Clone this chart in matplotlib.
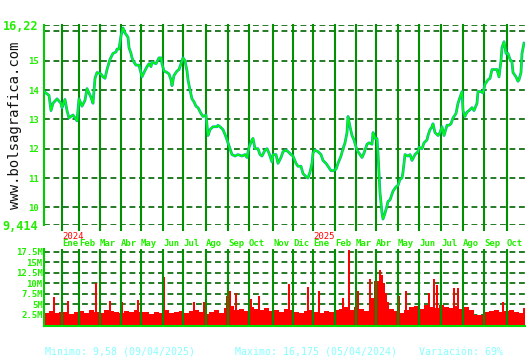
import matplotlib
matplotlib.use("Agg")
import matplotlib.pyplot as plt
import matplotlib.transforms as mtransforms

# ---------------- data (x = trading-session index) ----------------
price_x = [0, 5, 7, 9, 13, 17, 18, 21, 23, 25, 29, 33, 35, 38, 41, 43, 47, 49, 51, 53,
           57, 59, 61, 63, 66, 69, 72, 73, 75, 77, 79, 81, 84, 85, 87, 88, 90, 92, 95, 98,
           100, 103, 105, 107, 108, 112, 115, 117, 118, 120, 123, 125, 127, 128, 130, 133,
           135, 137, 139, 141, 143, 144, 146, 148, 150, 152, 154, 157, 159, 162, 163, 164,
           166, 169, 173, 174, 176, 179, 182, 184, 186, 188, 191, 194, 198, 201, 203, 205,
           208, 209, 211, 214, 216, 218, 221, 223, 225, 228, 229, 232, 234, 237, 239, 242,
           244, 247, 249, 252, 254, 257, 259, 262, 264, 266, 268, 269, 271, 274, 277, 279,
           282, 284, 287, 289, 292, 294, 297, 299, 301, 303, 304, 306, 308, 310, 313, 315,
           318, 320, 323, 325, 328, 329, 331, 333, 334, 335, 336, 338, 339, 341, 343, 344,
           346, 349, 352, 354, 356, 358, 359, 361, 364, 366, 368, 371, 374, 375, 378, 380,
           383, 384, 386, 388, 389, 391, 394, 396, 398, 400, 403, 405, 407, 409, 412, 414,
           416, 418, 419, 421, 423, 425, 428, 430, 433, 434, 437, 439, 441, 444, 446, 448,
           450, 453, 455, 457, 458, 460, 462, 464, 466, 468, 469, 472, 474, 475, 477, 478, 480]
price_close = [13.95, 13.82, 13.3, 13.55, 13.7, 13.55, 13.4, 13.68, 13.3, 13.05, 13.15, 12.95,
               13.7, 13.45, 13.65, 14.05, 13.75, 13.55, 14.4, 14.6, 14.55, 14.45, 14.4, 14.7,
               15.05, 15.25, 15.3, 15.4, 15.4, 15.85, 16.12, 15.95, 15.8, 15.45, 15.25, 15.1,
               14.95, 14.85, 14.85, 14.45, 14.6, 14.8, 14.9, 14.8, 14.95, 14.9, 15.1, 15.1,
               14.9, 14.65, 14.6, 14.55, 14.35, 14.15, 14.5, 14.65, 14.7, 14.9, 15.1, 15.0,
               14.65, 14.35, 14.0, 13.7, 13.6, 13.45, 13.4, 13.2, 13.1, 13.15, 12.8, 12.45,
               12.65, 12.75, 12.75, 12.8, 12.75, 12.65, 12.4, 12.2, 12.0, 11.8, 11.75, 11.8,
               11.75, 11.8, 11.7, 12.05, 12.3, 12.35, 12.0, 12.0, 11.8, 11.75, 11.95, 12.0,
               11.85, 11.55, 11.8, 11.8, 11.5, 11.7, 11.9, 11.95, 11.9, 11.8, 11.75, 11.5,
               11.4, 11.4, 11.15, 11.05, 11.0, 11.2, 11.5, 11.85, 11.95, 11.9, 11.8, 11.6,
               11.5, 11.4, 11.25, 11.25, 11.3, 11.5, 11.75, 12.0, 12.2, 12.55, 13.1, 12.75,
               12.45, 12.3, 11.95, 11.85, 11.7, 11.85, 12.15, 12.2, 12.15, 12.55, 12.35, 12.35,
               11.85, 11.15, 10.5, 9.8, 9.6, 9.8, 10.05, 10.2, 10.25, 10.55, 10.7, 10.75,
               10.95, 11.0, 11.2, 11.8, 11.75, 11.8, 11.6, 11.8, 11.9, 12.05, 12.0, 12.2,
               12.3, 12.45, 12.65, 12.75, 12.85, 12.55, 12.45, 12.55, 12.75, 12.45, 12.8, 12.8,
               12.85, 13.05, 13.2, 13.55, 13.75, 13.95, 13.3, 13.1, 13.25, 13.3, 13.4, 13.3,
               13.55, 13.95, 13.95, 13.9, 14.2, 14.35, 14.4, 14.7, 14.7, 14.7, 14.45, 15.0,
               15.45, 15.65, 15.25, 15.25, 15.05, 14.95, 14.6, 14.45, 14.3, 14.35, 14.6, 15.25,
               15.6]

# volume (millions): 5-session base levels plus single-session spikes
vol_base = [3.0, 3.4, 2.9, 3.3, 3.1, 2.7, 3.2, 3.5, 3.0, 3.6, 3.3, 2.9, 3.8, 3.4, 3.1, 3.0,
            3.5, 3.2, 3.7, 3.3,
            3.1, 2.8, 3.3, 3.0, 3.6, 2.9, 3.2, 3.4, 3.0, 3.5, 3.7, 3.1, 2.8, 3.3, 3.6, 3.0,
            4.2, 4.6, 3.8, 4.0, 3.5, 4.3, 3.9, 3.6, 4.1, 3.4, 3.8, 3.2, 4.0, 3.6,
            3.3, 3.0, 3.5, 3.8, 3.2, 2.9, 3.4, 3.1, 3.6,
            3.9, 4.3, 3.6, 4.4, 4.0, 3.5,
            6.5, 10.5, 9.0, 5.5, 4.0,
            3.4, 3.0, 3.8,
            4.3, 4.6, 4.0, 4.8, 4.4, 4.1, 4.9, 4.5, 4.2, 4.7, 4.0, 4.3, 3.6,
            2.4, 2.6,
            3.1, 3.4, 3.7, 3.2, 3.5, 3.8, 3.3, 3.0, 3.4]
vol_base_x = [5 * i for i in range(len(vol_base))]
spike_x = [9, 23, 51, 55, 65, 77, 93, 119, 149, 159, 182, 185, 191, 206, 214, 244, 263, 274,
           298, 304, 313, 325, 329, 333, 335, 337, 339, 341, 354, 361, 374, 384, 389, 392,
           409, 413, 418, 458, 479]
spike_v = [6.8, 5.8, 10.0, 9.2, 5.8, 5.5, 6.0, 11.6, 5.7, 5.7, 6.9, 8.3, 7.7, 6.2, 6.9, 9.8,
           9.1, 8.1, 6.5, 18.0, 8.1, 11.0, 5.2, 8.5, 13.3, 12.0, 10.0, 7.7, 6.9, 8.3, 10.6,
           7.7, 11.0, 9.6, 9.0, 9.0, 7.7, 5.7, 4.1]

month_pos = [18, 35, 56, 77, 97, 119, 139, 162, 184, 205, 229, 249, 269, 291, 312, 332,
             354, 375, 397, 419, 440, 463]
month_labels = ["Ene", "Feb", "Mar", "Abr", "May", "Jun", "Jul", "Ago", "Sep", "Oct", "Nov",
                "Dic", "Ene", "Feb", "Mar", "Abr", "May", "Jun", "Jul", "Ago", "Sep", "Oct"]
year_labels = ["2024", "2025"]
year_pos = [18, 269]

price_ticks = [9.414, 10, 11, 12, 13, 14, 15, 16, 16.22]
price_tick_labels = ["9,414", "10", "11", "12", "13", "14", "15", "", "16,22"]
vol_ticks = [2.5, 5, 7.5, 10, 12.5, 15, 17.5]
vol_tick_labels = ["2.5M", "5M", "7.5M", "10M", "12.5M", "15M", "17.5M"]

footer = ["Minimo: 9,58 (09/04/2025)", "Maximo: 16,175 (05/04/2024)", "Variación: 69%"]

# ---------------- style ----------------
MONO = "DejaVu Sans Mono"
LIME = "#22ee00"
GRID_H = "#006400"
GRID_V = "#009000"
DASH = (0, (3.5, 2.2))

fig = plt.figure(figsize=(5.3, 3.6), dpi=100, facecolor="white")
ax = fig.add_axes([44 / 530, 1 - 224.5 / 360, 481 / 530, (224.5 - 25) / 360])
axv = fig.add_axes([44 / 530, 1 - 325.5 / 360, 481 / 530, (325.5 - 249) / 360])

for a in (ax, axv):
    a.set_facecolor("white")
    a.set_xlim(0, 481)
    for s in ("top", "right", "bottom"):
        a.spines[s].set_visible(False)
    a.spines["left"].set_color("#00cc00")
    a.spines["left"].set_linewidth(1.5)

for p in month_pos:
    ax.axvline(p, ymin=-0.03, ymax=1, color=GRID_V, lw=1.5, zorder=2, clip_on=False)
    axv.axvline(p, color=GRID_V, lw=1.5, zorder=2)

# price panel
ax.set_ylim(9.414, 16.22)
ax.set_yticks(price_ticks)
ax.set_yticklabels(price_tick_labels)
ax.tick_params(axis="y", length=0, pad=4, colors=LIME)
for lab in ax.get_yticklabels():
    lab.set_fontfamily(MONO)
    lab.set_fontweight("bold")
    lab.set_fontsize(8.5 if "," in lab.get_text() else 6.5)
ax.grid(axis="y", color=GRID_H, ls=DASH, lw=1.2, zorder=1)
ax.set_xticks(month_pos)
ax.set_xticklabels(month_labels, ha="left", fontfamily=MONO, fontweight="bold", fontsize=6.5)
ax.tick_params(axis="x", length=0, pad=10.5, colors=LIME)

ax.plot(price_x, price_close, color="#10a8b8", lw=2.0, zorder=3)
ax.plot(price_x, price_close, color="#00ff00", lw=1.1, zorder=4)

trans = mtransforms.blended_transform_factory(ax.transData, ax.transAxes)
for yp, yl in zip(year_pos, year_labels):
    ax.text(yp, -0.058, yl, transform=trans, color="red", fontfamily=MONO, fontsize=6.5,
            ha="left", va="center")

# volume panel
axv.set_ylim(0, 18.2)
axv.spines["bottom"].set_visible(True)
axv.spines["bottom"].set_color("#00dd00")
axv.spines["bottom"].set_linewidth(1.5)
axv.set_yticks(vol_ticks)
axv.set_yticklabels(vol_tick_labels)
axv.tick_params(axis="y", length=0, pad=1, colors=LIME)
for lab in axv.get_yticklabels():
    lab.set_fontfamily(MONO)
    lab.set_fontweight("bold")
    lab.set_fontsize(6.5)
axv.set_xticks([])
axv.grid(axis="y", color=GRID_H, ls=DASH, lw=1.2, zorder=0)
axv.set_axisbelow(True)
axv.bar(vol_base_x, vol_base, width=5, align="edge", color="#ff0000", lw=0, zorder=1)
axv.bar(spike_x, spike_v, width=1.6, align="edge", color="#ff0000", lw=0, zorder=1,
        antialiased=False)

# watermark and footer
fig.text(15 / 530, 1 - 125 / 360, "www.bolsagrafica.com", rotation=90, color="#111111",
         fontfamily=MONO, fontsize=10, ha="center", va="center")
for xp, t in zip([45, 235, 419], footer):
    fig.text(xp / 530, 1 - 352 / 360, t, color="#88ffff", fontfamily=MONO, fontsize=7.2,
             ha="left", va="center")

fig.savefig("out.png", dpi=100, facecolor="white")
